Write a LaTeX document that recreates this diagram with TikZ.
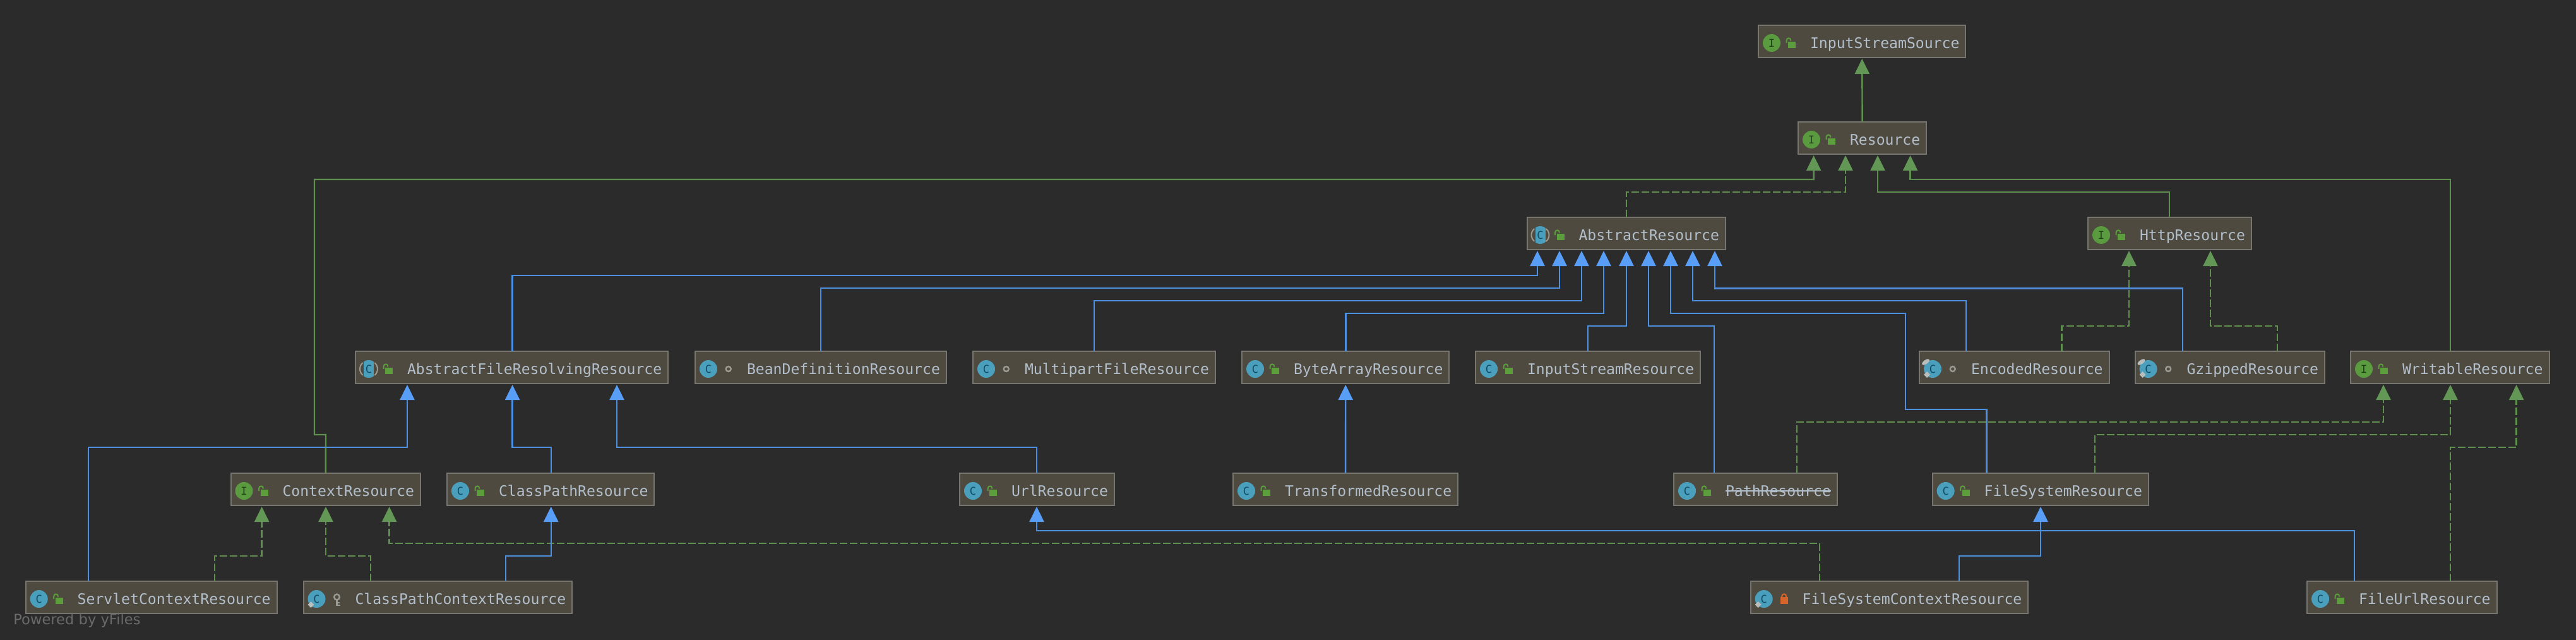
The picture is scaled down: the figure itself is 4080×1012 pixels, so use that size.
\documentclass[tikz,border=0pt]{standalone}
\usepackage{fontspec}
\usetikzlibrary{arrows.meta}
\newfontfamily\monof{DejaVu Sans Mono}
\newfontfamily\sansf{DejaVu Sans}
\definecolor{bgc}{HTML}{2B2B2B}
\definecolor{boxc}{HTML}{4E4A40}
\definecolor{edgec}{HTML}{77756F}
\definecolor{txtc}{HTML}{B2BECA}
\definecolor{greenl}{HTML}{5F8F4E}
\definecolor{greena}{HTML}{629755}
\definecolor{bluel}{HTML}{4F8FE0}
\definecolor{bluea}{HTML}{589DF6}
\definecolor{tealc}{HTML}{4A9FBD}
\definecolor{tealt}{HTML}{134A63}
\definecolor{igreen}{HTML}{5B9B3F}
\definecolor{igreent}{HTML}{21401C}
\definecolor{lockg}{HTML}{5C9E3C}
\definecolor{locko}{HTML}{D9642B}
\definecolor{grayi}{HTML}{9A9A92}
\definecolor{pale}{HTML}{B9BDBB}
\tikzset{
  umlbox/.style={draw=edgec,fill=boxc,line width=1pt,anchor=north west,inner xsep=5pt,inner ysep=0pt,outer sep=0pt,
    text height=18pt,text depth=7.5pt,text=txtc,font=\monof\fontsize{11.55pt}{13pt}\selectfont},
  gsolid/.style={draw=greenl,line width=1.2pt,-{Triangle[length=12pt,width=11.5pt,fill=greena,color=greena]},shorten >=1pt},
  gdash/.style={gsolid,dash pattern=on 6pt off 2pt},
  bsolid/.style={draw=bluel,line width=1.2pt,-{Triangle[length=12pt,width=11.5pt,fill=bluea,color=bluea]},shorten >=1pt},
  iconletter/.style={inner sep=0pt,font=\monof\fontsize{8.5pt}{10pt}\selectfont},
  markbox/.style={text=gray!75!bgc,inner sep=0pt,anchor=base west,font=\sansf\fontsize{11.3pt}{13pt}\selectfont}
}
\newcommand{\umlnode}[5]{%
  \node[umlbox] (#1) at (#2,#3) {\hspace*{36pt}#4};
  \def\curname{#1}
  \begin{scope}[shift={(#1.north west)}] #5 \end{scope}}
\newcommand{\icI}{\fill[igreen] (21,28) circle[radius=7pt];
  \node[iconletter,text=igreent] (\curname-letter) at (21,28) {I};}
\newcommand{\icC}{\fill[tealc] (21,28) circle[radius=7pt];
  \node[iconletter,text=tealt] (\curname-letter) at (21,28) {C};}
\newcommand{\icA}{\fill[tealc] (21,28) circle[radius=7pt];
  \fill[boxc] (29,12) rectangle (37,44); \fill[boxc] (5,12) rectangle (13,44);
  \draw[grayi,line width=1pt] (22,28) ++(-50:6.5pt) arc[start angle=-50,end angle=50,radius=6.5pt];
  \draw[grayi,line width=1pt] (20,28) ++(130:6.5pt) arc[start angle=130,end angle=230,radius=6.5pt];
  \node[iconletter,text=tealt] (\curname-letter) at (21,28) {C};}
\newcommand{\icPub}{\fill[lockg] (47.3,26) rectangle (59,36);
  \draw[lockg,line width=1pt] (44.5,28) -- (44.5,24.5) .. controls (44.5,19) and (51.5,19) .. (51.5,24.5);}
\newcommand{\icPrv}{\fill[locko] (47,25) rectangle (59,36);
  \draw[locko,line width=1pt] (49.5,26) -- (49.5,24) .. controls (49.5,19) and (56.5,19) .. (56.5,24) -- (56.5,26);}
\newcommand{\icPkg}{\draw[grayi,line width=1.2pt] (52.7,28) circle[radius=2pt];}
\newcommand{\icKey}{\draw[grayi,line width=1.2pt] (53,25) circle[radius=2.2pt];
  \draw[grayi,line width=1.2pt] (53,30) -- (53,38) -- (58,38) (53,34) -- (57,34);}
\newcommand{\icDia}{\fill[pale] (12,32) -- (17,37) -- (12,42) -- (7,37) -- cycle;}
\newcommand{\icPin}{\fill[pale,rotate around={35:(10,17)}] (10,17) ellipse[x radius=3.4pt,y radius=1.6pt];}
% style, from, from x, channel y, to x, to
\newcommand{\rel}[6]{\draw[#1] (#2.north -| #3,0) |- (#5,#4) -- (#6.south -| #5,0);}
\begin{document}
\begin{tikzpicture}[x=0.5pt,y=-0.5pt]
\useasboundingbox (0,0) rectangle (4080,1012);
\fill[bgc] (-10,-10) rectangle (4090,1022);

\umlnode{iss}{2785}{40}{InputStreamSource}{\icI\icPub}
\umlnode{res}{2848}{193}{Resource}{\icI\icPub}
\umlnode{abs}{2418.5}{344}{AbstractResource}{\icA\icPub}
\umlnode{http}{3307}{344}{HttpResource}{\icI\icPub}
\umlnode{afr}{563}{556}{AbstractFileResolvingResource}{\icA\icPub}
\umlnode{bean}{1101}{556}{BeanDefinitionResource}{\icC\icPkg}
\umlnode{multi}{1541}{556}{MultipartFileResource}{\icC\icPkg}
\umlnode{byte}{1967}{556}{ByteArrayResource}{\icC\icPub}
\umlnode{instr}{2337}{556}{InputStreamResource}{\icC\icPub}
\umlnode{enc}{3040}{556}{EncodedResource}{\icC\icPin\icDia\icPkg}
\umlnode{gzip}{3381.5}{556}{GzippedResource}{\icC\icPin\icDia\icPkg}
\umlnode{writ}{3723}{556}{WritableResource}{\icI\icPub}
\umlnode{ctx}{365.5}{749}{ContextResource}{\icI\icPub}
\umlnode{cpr}{708}{749}{ClassPathResource}{\icC\icPub}
\umlnode{url}{1520}{749}{UrlResource}{\icC\icPub}
\umlnode{trans}{1953}{749}{TransformedResource}{\icC\icPub}
\umlnode{path}{2651}{749}{\rlap{\raisebox{3.6pt}{\rule{83.4pt}{0.8pt}}}PathResource}{\icC\icPub}
\umlnode{fsr}{3060.6}{749}{FileSystemResource}{\icC\icPub}
\umlnode{scr}{40.7}{920}{ServletContextResource}{\icC\icPub}
\umlnode{cpc}{480.5}{920}{ClassPathContextResource}{\icC\icDia\icKey}
\umlnode{fsc}{2772.7}{920}{FileSystemContextResource}{\icC\icDia\icPrv}
\umlnode{fur}{3654}{920}{FileUrlResource}{\icC\icPub}
\node[markbox] (powered) at (21,988) {Powered by yFiles};

% to Resource / InputStreamSource
\draw[gsolid] (res.north) -- (iss.south);
\draw[gsolid] (ctx.north) -- (516,688) -- (498,688) -- (498,284) -- (2872.6,284) -- (res.south -| 2872.6,0);
\rel{gdash}{abs}{2576}{304}{2923}{res}
\rel{gsolid}{http}{3436}{304}{2974}{res}
\rel{gsolid}{writ}{3881}{284}{3025.6}{res}
% to AbstractResource
\rel{bsolid}{afr}{811.6}{436}{2435}{abs}
\rel{bsolid}{bean}{1300}{456}{2470}{abs}
\rel{bsolid}{multi}{1733}{476}{2505}{abs}
\rel{bsolid}{byte}{2131.5}{496}{2540}{abs}
\rel{bsolid}{instr}{2515}{516}{2576}{abs}
\rel{bsolid}{path}{2715}{516}{2611}{abs}
\draw[bsolid] (fsr.north -| 3146.5,0) -- (3146.5,648) -- (3018,648) -- (3018,496) -- (2646,496) -- (abs.south -| 2646,0);
\rel{bsolid}{enc}{3114}{476}{2681}{abs}
\rel{bsolid}{gzip}{3457}{456.5}{2716}{abs}
% to HttpResource
\rel{gdash}{enc}{3265.4}{516}{3372}{http}
\rel{gdash}{gzip}{3607}{516}{3501}{http}
% to AbstractFileResolvingResource
\rel{bsolid}{scr}{140}{708}{645}{afr}
\rel{bsolid}{cpr}{872.7}{708}{811.6}{afr}
\rel{bsolid}{url}{1642}{708}{977}{afr}
% to ByteArrayResource
\draw[bsolid] (trans.north) -- (byte.south);
% to WritableResource
\rel{gdash}{path}{2846}{668}{3775}{writ}
\rel{gdash}{fsr}{3318}{688}{3881}{writ}
\rel{gdash}{fur}{3881}{708}{3985.6}{writ}
% to ContextResource
\rel{gdash}{scr}{340}{880}{414.6}{ctx}
\rel{gdash}{cpc}{587}{880}{516}{ctx}
\rel{gdash}{fsc}{2882}{860}{616.6}{ctx}
% to ClassPathResource, FileSystemResource, UrlResource
\rel{bsolid}{cpc}{801}{880}{872.7}{cpr}
\rel{bsolid}{fsc}{3103}{880}{3232}{fsr}
\rel{bsolid}{fur}{3729}{840}{1642}{url}
\end{tikzpicture}
\end{document}
